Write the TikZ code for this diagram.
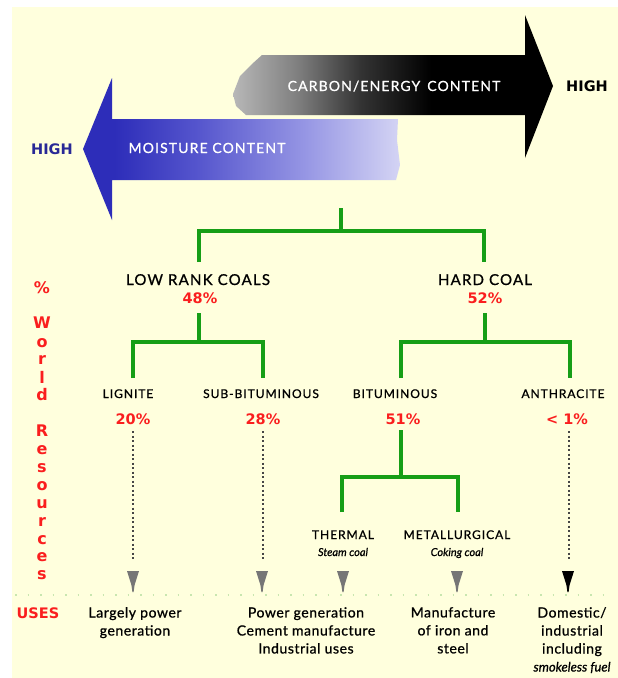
\documentclass[tikz,border=0pt]{standalone}
\usepackage{fontspec}
\setmainfont{Lato}[FakeBold=0.9]
\newfontfamily\capsfont[LetterSpace=8,FakeBold=0.9]{Lato}
\newfontfamily\usesfont[LetterSpace=4,FakeBold=0.9]{Lato}
\newfontfamily\boldsans{DejaVu Sans}
\usetikzlibrary{calc}
\definecolor{bgyellow}{RGB}{255,255,221}
\definecolor{treegreen}{RGB}{22,158,22}
\definecolor{pctred}{RGB}{250,30,30}
\definecolor{highblue}{RGB}{40,40,150}
\definecolor{moistA}{RGB}{45,45,185}
\definecolor{moistB}{RGB}{85,85,205}
\definecolor{moistC}{RGB}{150,150,228}
\definecolor{moistD}{RGB}{212,212,244}
\definecolor{dotgray}{RGB}{70,70,70}
\definecolor{arrowgray}{RGB}{118,118,118}
\definecolor{faintgreen}{RGB}{200,230,175}
\pgfdeclarehorizontalshading{carbonshade}{100bp}{color(0bp)=(black!28); color(25bp)=(black!28); color(35bp)=(black!50); color(45bp)=(black!80); color(56bp)=(black); color(100bp)=(black)}
\pgfdeclarehorizontalshading{moistshade}{100bp}{color(0bp)=(moistA); color(30bp)=(moistA); color(43bp)=(moistB); color(60bp)=(moistC); color(75bp)=(moistD); color(100bp)=(moistD)}
\begin{document}
\begin{tikzpicture}[x=1pt,y=-1pt,
  lbl/.style={anchor=base,inner sep=0pt},
  bigcap/.style={lbl,font=\capsfont\fontsize{15}{18}\selectfont},
  smallcap/.style={lbl,font=\capsfont\fontsize{12}{14}\selectfont},
  subnote/.style={lbl,font=\fontsize{11}{13}\selectfont\itshape},
  pct/.style={lbl,text=pctred,font=\boldsans\bfseries\fontsize{14.5}{16}\selectfont},
  vert/.style={lbl,text=pctred,font=\boldsans\bfseries\fontsize{16}{18}\selectfont},
  hightext/.style={lbl,font=\boldsans\bfseries\fontsize{14.5}{16}\selectfont},
  arrowtext/.style={lbl,text=white,font=\capsfont\fontsize{14}{16}\selectfont},
  usetext/.style={anchor=north,inner sep=0pt,align=center,font=\usesfont\fontsize{14}{18}\selectfont},
  tree/.style={draw=treegreen,line width=4pt},
  dotline/.style={draw=dotgray,line width=2pt,dash pattern=on 2pt off 2.5pt},
  usearrow/.pic={\fill[#1] (-6,0) -- (6,0) -- (1.6,14) -- (0.6,21) -- (-0.6,21) -- (-1.6,14) -- cycle;}
]
% background
\useasboundingbox (0,0) rectangle (618,678);
\fill[white] (0,0) rectangle (618,678);
\fill[bgyellow] (12,7) rectangle (618,678);

% carbon / energy arrow
\shade[shading=carbonshade] (262,55) -- (525,55) -- (525,15) -- (553,86) -- (525,158) -- (525,115) -- (246,115) -- (236,106) -- (233,94) -- (240,76) -- (252,64) -- cycle;
\node[arrowtext] (carbon) at (394,91) {CARBON/ENERGY\hspace{0.5em}CONTENT};
\node[hightext] (highR) at (587,91) {HIGH};

% moisture arrow
\shade[shading=moistshade] (398,119) -- (112,119) -- (112,78) -- (83,149) -- (112,220) -- (112,180) -- (396,180) -- (400,165) -- (397,140) -- cycle;
\node[arrowtext] (moist) at (207,153) {MOISTURE CONTENT};
\node[hightext,text=highblue] (highL) at (52,154) {HIGH};

% % World Resources
\node[vert] (vPct) at (42,293) {\%};
\node[vert] (vW) at (42,328) {W};
\node[vert] (vo1) at (42,347) {o};
\node[vert] (vr1) at (42,364) {r};
\node[vert] (vl) at (42,383) {l};
\node[vert] (vd) at (42,400) {d};
\node[vert] (vR) at (42,436) {R};
\node[vert] (ve1) at (42,454) {e};
\node[vert] (vs1) at (42,472) {s};
\node[vert] (vo2) at (42,490) {o};
\node[vert] (vu) at (42,508) {u};
\node[vert] (vr2) at (42,526) {r};
\node[vert] (vc) at (42,544) {c};
\node[vert] (ve2) at (42,561) {e};
\node[vert] (vs2) at (42,579) {s};

% level 1
\node[bigcap] (lrc) at (198,285) {LOW RANK COALS};
\node[pct] (lrcpct) at (200,303) {48\%};
\node[bigcap] (hc) at (485,285) {HARD COAL};
\node[pct] (hcpct) at (485,303) {52\%};

% level 2
\node[smallcap] (lig) at (128,398) {LIGNITE};
\node[pct] (ligpct) at (133,424) {20\%};
\node[smallcap] (sub) at (261,398) {SUB-BITUMINOUS};
\node[pct] (subpct) at (263,424) {28\%};
\node[smallcap] (bit) at (395,398) {BITUMINOUS};
\node[pct] (bitpct) at (403,424) {51\%};
\node[smallcap] (ant) at (563,398) {ANTHRACITE};
\node[pct] (antpct) at (567,424) {< 1\%};

% level 3
\node[smallcap] (ther) at (343,539) {THERMAL};
\node[subnote] (therN) at (343,556) {Steam coal};
\node[smallcap] (met) at (457,539) {METALLURGICAL};
\node[subnote] (metN) at (457,556) {Coking coal};

% tree connectors
\coordinate (rootTop) at (341,208);
\coordinate (rootBar) at (341,231);
\coordinate (lrcTop) at (199,262);
\coordinate (hcTop) at (484,262);
\draw[tree] (rootTop) -- (rootBar);
\draw[tree] (lrcTop) |- (rootBar) -| (hcTop);

\coordinate (lrcStem) at (199,313);
\coordinate (lrcBar) at (199,342);
\coordinate (ligTop) at (133,378);
\coordinate (subTop) at (263,378);
\draw[tree] (lrcStem) -- (lrcBar);
\draw[tree] (ligTop) |- (lrcBar) -| (subTop);

\coordinate (hcStem) at (485,313);
\coordinate (hcBar) at (485,342);
\coordinate (bitTop) at (401,378);
\coordinate (antTop) at (570,378);
\draw[tree] (hcStem) -- (hcBar);
\draw[tree] (bitTop) |- (hcBar) -| (antTop);

\coordinate (bitStem) at (401,430);
\coordinate (bitBar) at (401,477);
\coordinate (therTop) at (342,512);
\coordinate (metTop) at (458,512);
\draw[tree] (bitStem) -- (bitBar);
\draw[tree] (therTop) |- (bitBar) -| (metTop);

% dotted connectors
\coordinate (ligDot) at (133,431);
\coordinate (ligEnd) at (133,559);
\coordinate (subDot) at (263,431);
\coordinate (subEnd) at (263,559);
\coordinate (antDot) at (569,431);
\coordinate (antEnd) at (569,559);
\draw[dotline] (ligDot) -- (ligEnd);
\draw[dotline] (subDot) -- (subEnd);
\draw[dotline] (antDot) -- (antEnd);

% arrowheads
\pic at (133,571) {usearrow=arrowgray};
\pic at (262,571) {usearrow=arrowgray};
\pic at (343,571) {usearrow=arrowgray};
\pic at (457,571) {usearrow=arrowgray};
\pic at (568,571) {usearrow=black};

% faint separator
\coordinate (sepL) at (15,595);
\coordinate (sepR) at (612,595);
\draw[faintgreen,line width=1.5pt,dash pattern=on 1.5pt off 11pt] (sepL) -- (sepR);

% uses
\node[lbl,text=pctred,font=\boldsans\bfseries\fontsize{14.5}{16}\selectfont] (uses) at (38,618) {USES};
\node[usetext] (use1) at (135,607) {Largely power\\generation};
\node[usetext] (use2) at (306,607) {Power generation\\Cement manufacture\\Industrial uses};
\node[usetext] (use3) at (453,607) {Manufacture\\of iron and\\steel};
\node[usetext] (use4) at (572,607) {Domestic/\\industrial\\including\\{\fontspec{Lato}[FakeBold=0.9]\fontsize{13}{18}\selectfont\itshape smokeless fuel}};
\end{tikzpicture}
\end{document}
